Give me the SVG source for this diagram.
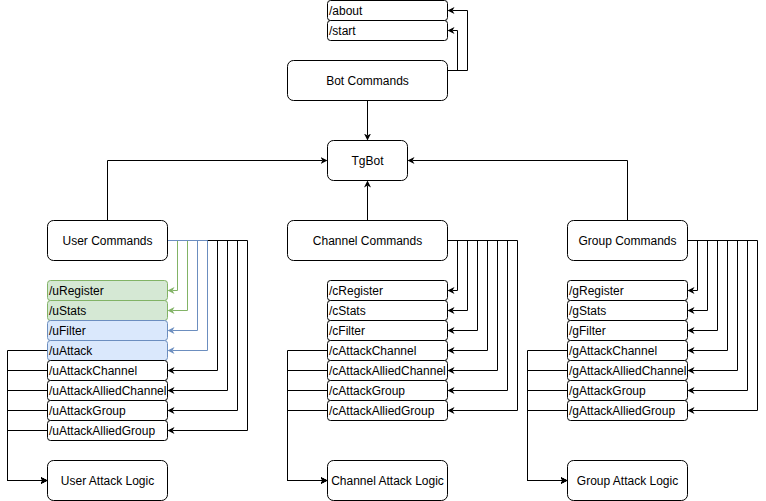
<svg xmlns="http://www.w3.org/2000/svg" width="766" height="501" viewBox="0 0 766 501">
  <style>
    .box { fill: #ffffff; stroke: #000000; stroke-width: 1; }
    .green { fill: #d5e8d4; stroke: #82b366; }
    .blue { fill: #dae8fc; stroke: #6c8ebf; }
    text { font-family: "Liberation Sans", Arial, Helvetica, sans-serif; font-size: 12px; fill: #000000; }
    .c { text-anchor: middle; }
    .edge { fill: none; stroke: #000000; stroke-width: 1; marker-end: url(#arrowK); }
    .edge.g { stroke: #82b366; marker-end: url(#arrowG); }
    .edge.b { stroke: #6c8ebf; marker-end: url(#arrowB); }
  </style>
  <defs>
    <marker id="arrowK" viewBox="0 -4 8 8" refX="2" refY="0" markerWidth="8" markerHeight="8" markerUnits="userSpaceOnUse" orient="auto">
      <path d="M7,0 L0,-3.5 L2,0 L0,3.5 Z" fill="#000000"/>
    </marker>
    <marker id="arrowG" viewBox="0 -4 8 8" refX="2" refY="0" markerWidth="8" markerHeight="8" markerUnits="userSpaceOnUse" orient="auto">
      <path d="M7,0 L0,-3.5 L2,0 L0,3.5 Z" fill="#82b366"/>
    </marker>
    <marker id="arrowB" viewBox="0 -4 8 8" refX="2" refY="0" markerWidth="8" markerHeight="8" markerUnits="userSpaceOnUse" orient="auto">
      <path d="M7,0 L0,-3.5 L2,0 L0,3.5 Z" fill="#6c8ebf"/>
    </marker>
  </defs>
  <g transform="translate(0.5,0.5)">
    <g id="connectors">
      <!-- bot commands -->
      <path class="edge" d="M447,70 H467 V10 H452"/>
      <path class="edge" d="M447,70 H457 V30 H452"/>
      <path class="edge" d="M367,100 V135"/>
      <!-- command groups to TgBot -->
      <path class="edge" d="M107,220 V160 H322"/>
      <path class="edge" d="M367,220 V185"/>
      <path class="edge" d="M627,220 V160 H412"/>
      <!-- user commands -->
      <path class="edge" d="M167,240 H247 V430 H172"/>
      <path class="edge" d="M167,240 H237 V410 H172"/>
      <path class="edge" d="M167,240 H227 V390 H172"/>
      <path class="edge" d="M167,240 H217 V370 H172"/>
      <path class="edge g" d="M167,240 H187 V310 H172"/>
      <path class="edge g" d="M167,240 H177 V290 H172"/>
      <path class="edge b" d="M167,240 H207 V350 H172"/>
      <path class="edge b" d="M167,240 H197 V330 H172"/>
      <!-- channel commands -->
      <path class="edge" d="M447,240 H517 V410 H452"/>
      <path class="edge" d="M447,240 H507 V390 H452"/>
      <path class="edge" d="M447,240 H497 V370 H452"/>
      <path class="edge" d="M447,240 H487 V350 H452"/>
      <path class="edge" d="M447,240 H477 V330 H452"/>
      <path class="edge" d="M447,240 H467 V310 H452"/>
      <path class="edge" d="M447,240 H457 V290 H452"/>
      <!-- group commands -->
      <path class="edge" d="M687,240 H757 V410 H692"/>
      <path class="edge" d="M687,240 H747 V390 H692"/>
      <path class="edge" d="M687,240 H737 V370 H692"/>
      <path class="edge" d="M687,240 H727 V350 H692"/>
      <path class="edge" d="M687,240 H717 V330 H692"/>
      <path class="edge" d="M687,240 H707 V310 H692"/>
      <path class="edge" d="M687,240 H697 V290 H692"/>
      <!-- attack commands to attack logic -->
      <path class="edge" d="M47,350 H7 V480 H42"/>
      <path class="edge" d="M47,370 H7 V480 H42"/>
      <path class="edge" d="M47,390 H7 V480 H42"/>
      <path class="edge" d="M47,410 H7 V480 H42"/>
      <path class="edge" d="M47,430 H7 V480 H42"/>
      <path class="edge" d="M327,350 H287 V480 H322"/>
      <path class="edge" d="M327,370 H287 V480 H322"/>
      <path class="edge" d="M327,390 H287 V480 H322"/>
      <path class="edge" d="M327,410 H287 V480 H322"/>
      <path class="edge" d="M567,350 H527 V480 H562"/>
      <path class="edge" d="M567,370 H527 V480 H562"/>
      <path class="edge" d="M567,390 H527 V480 H562"/>
      <path class="edge" d="M567,410 H527 V480 H562"/>
    </g>

    <!-- bot commands -->
    <g id="about"><rect class="box" x="327" y="0" width="120" height="20" rx="3"/><text x="328.5" y="14">/about</text></g>
    <g id="start"><rect class="box" x="327" y="20" width="120" height="20" rx="3"/><text x="328.5" y="34">/start</text></g>
    <g id="botCommands"><rect class="box" x="287" y="60" width="160" height="40" rx="6"/><text class="c" x="367" y="84">Bot Commands</text></g>
    <g id="tgBot"><rect class="box" x="327" y="140" width="80" height="40" rx="6"/><text class="c" x="367" y="164">TgBot</text></g>

    <!-- command groups -->
    <g id="userCommands"><rect class="box" x="47" y="220" width="120" height="40" rx="6"/><text class="c" x="107" y="244">User Commands</text></g>
    <g id="channelCommands"><rect class="box" x="287" y="220" width="160" height="40" rx="6"/><text class="c" x="367" y="244">Channel Commands</text></g>
    <g id="groupCommands"><rect class="box" x="567" y="220" width="120" height="40" rx="6"/><text class="c" x="627" y="244">Group Commands</text></g>

    <!-- user sub-commands -->
    <g id="uRegister"><rect class="box green" x="47" y="280" width="120" height="20" rx="3"/><text x="48.5" y="294">/uRegister</text></g>
    <g id="uStats"><rect class="box green" x="47" y="300" width="120" height="20" rx="3"/><text x="48.5" y="314">/uStats</text></g>
    <g id="uFilter"><rect class="box blue" x="47" y="320" width="120" height="20" rx="3"/><text x="48.5" y="334">/uFilter</text></g>
    <g id="uAttack"><rect class="box blue" x="47" y="340" width="120" height="20" rx="3"/><text x="48.5" y="354">/uAttack</text></g>
    <g id="uAttackChannel"><rect class="box" x="47" y="360" width="120" height="20" rx="3"/><text x="48.5" y="374">/uAttackChannel</text></g>
    <g id="uAttackAlliedChannel"><rect class="box" x="47" y="380" width="120" height="20" rx="3"/><text x="48.5" y="394">/uAttackAlliedChannel</text></g>
    <g id="uAttackGroup"><rect class="box" x="47" y="400" width="120" height="20" rx="3"/><text x="48.5" y="414">/uAttackGroup</text></g>
    <g id="uAttackAlliedGroup"><rect class="box" x="47" y="420" width="120" height="20" rx="3"/><text x="48.5" y="434">/uAttackAlliedGroup</text></g>

    <!-- channel sub-commands -->
    <g id="cRegister"><rect class="box" x="327" y="280" width="120" height="20" rx="3"/><text x="328.5" y="294">/cRegister</text></g>
    <g id="cStats"><rect class="box" x="327" y="300" width="120" height="20" rx="3"/><text x="328.5" y="314">/cStats</text></g>
    <g id="cFilter"><rect class="box" x="327" y="320" width="120" height="20" rx="3"/><text x="328.5" y="334">/cFilter</text></g>
    <g id="cAttackChannel"><rect class="box" x="327" y="340" width="120" height="20" rx="3"/><text x="328.5" y="354">/cAttackChannel</text></g>
    <g id="cAttackAlliedChannel"><rect class="box" x="327" y="360" width="120" height="20" rx="3"/><text x="328.5" y="374">/cAttackAlliedChannel</text></g>
    <g id="cAttackGroup"><rect class="box" x="327" y="380" width="120" height="20" rx="3"/><text x="328.5" y="394">/cAttackGroup</text></g>
    <g id="cAttackAlliedGroup"><rect class="box" x="327" y="400" width="120" height="20" rx="3"/><text x="328.5" y="414">/cAttackAlliedGroup</text></g>

    <!-- group sub-commands -->
    <g id="gRegister"><rect class="box" x="567" y="280" width="120" height="20" rx="3"/><text x="568.5" y="294">/gRegister</text></g>
    <g id="gStats"><rect class="box" x="567" y="300" width="120" height="20" rx="3"/><text x="568.5" y="314">/gStats</text></g>
    <g id="gFilter"><rect class="box" x="567" y="320" width="120" height="20" rx="3"/><text x="568.5" y="334">/gFilter</text></g>
    <g id="gAttackChannel"><rect class="box" x="567" y="340" width="120" height="20" rx="3"/><text x="568.5" y="354">/gAttackChannel</text></g>
    <g id="gAttackAlliedChannel"><rect class="box" x="567" y="360" width="120" height="20" rx="3"/><text x="568.5" y="374">/gAttackAlliedChannel</text></g>
    <g id="gAttackGroup"><rect class="box" x="567" y="380" width="120" height="20" rx="3"/><text x="568.5" y="394">/gAttackGroup</text></g>
    <g id="gAttackAlliedGroup"><rect class="box" x="567" y="400" width="120" height="20" rx="3"/><text x="568.5" y="414">/gAttackAlliedGroup</text></g>

    <!-- attack logic -->
    <g id="userAttackLogic"><rect class="box" x="47" y="460" width="120" height="40" rx="6"/><text class="c" x="107" y="484">User Attack Logic</text></g>
    <g id="channelAttackLogic"><rect class="box" x="327" y="460" width="120" height="40" rx="6"/><text class="c" x="387" y="484">Channel Attack Logic</text></g>
    <g id="groupAttackLogic"><rect class="box" x="567" y="460" width="120" height="40" rx="6"/><text class="c" x="627" y="484">Group Attack Logic</text></g>
  </g>
</svg>
